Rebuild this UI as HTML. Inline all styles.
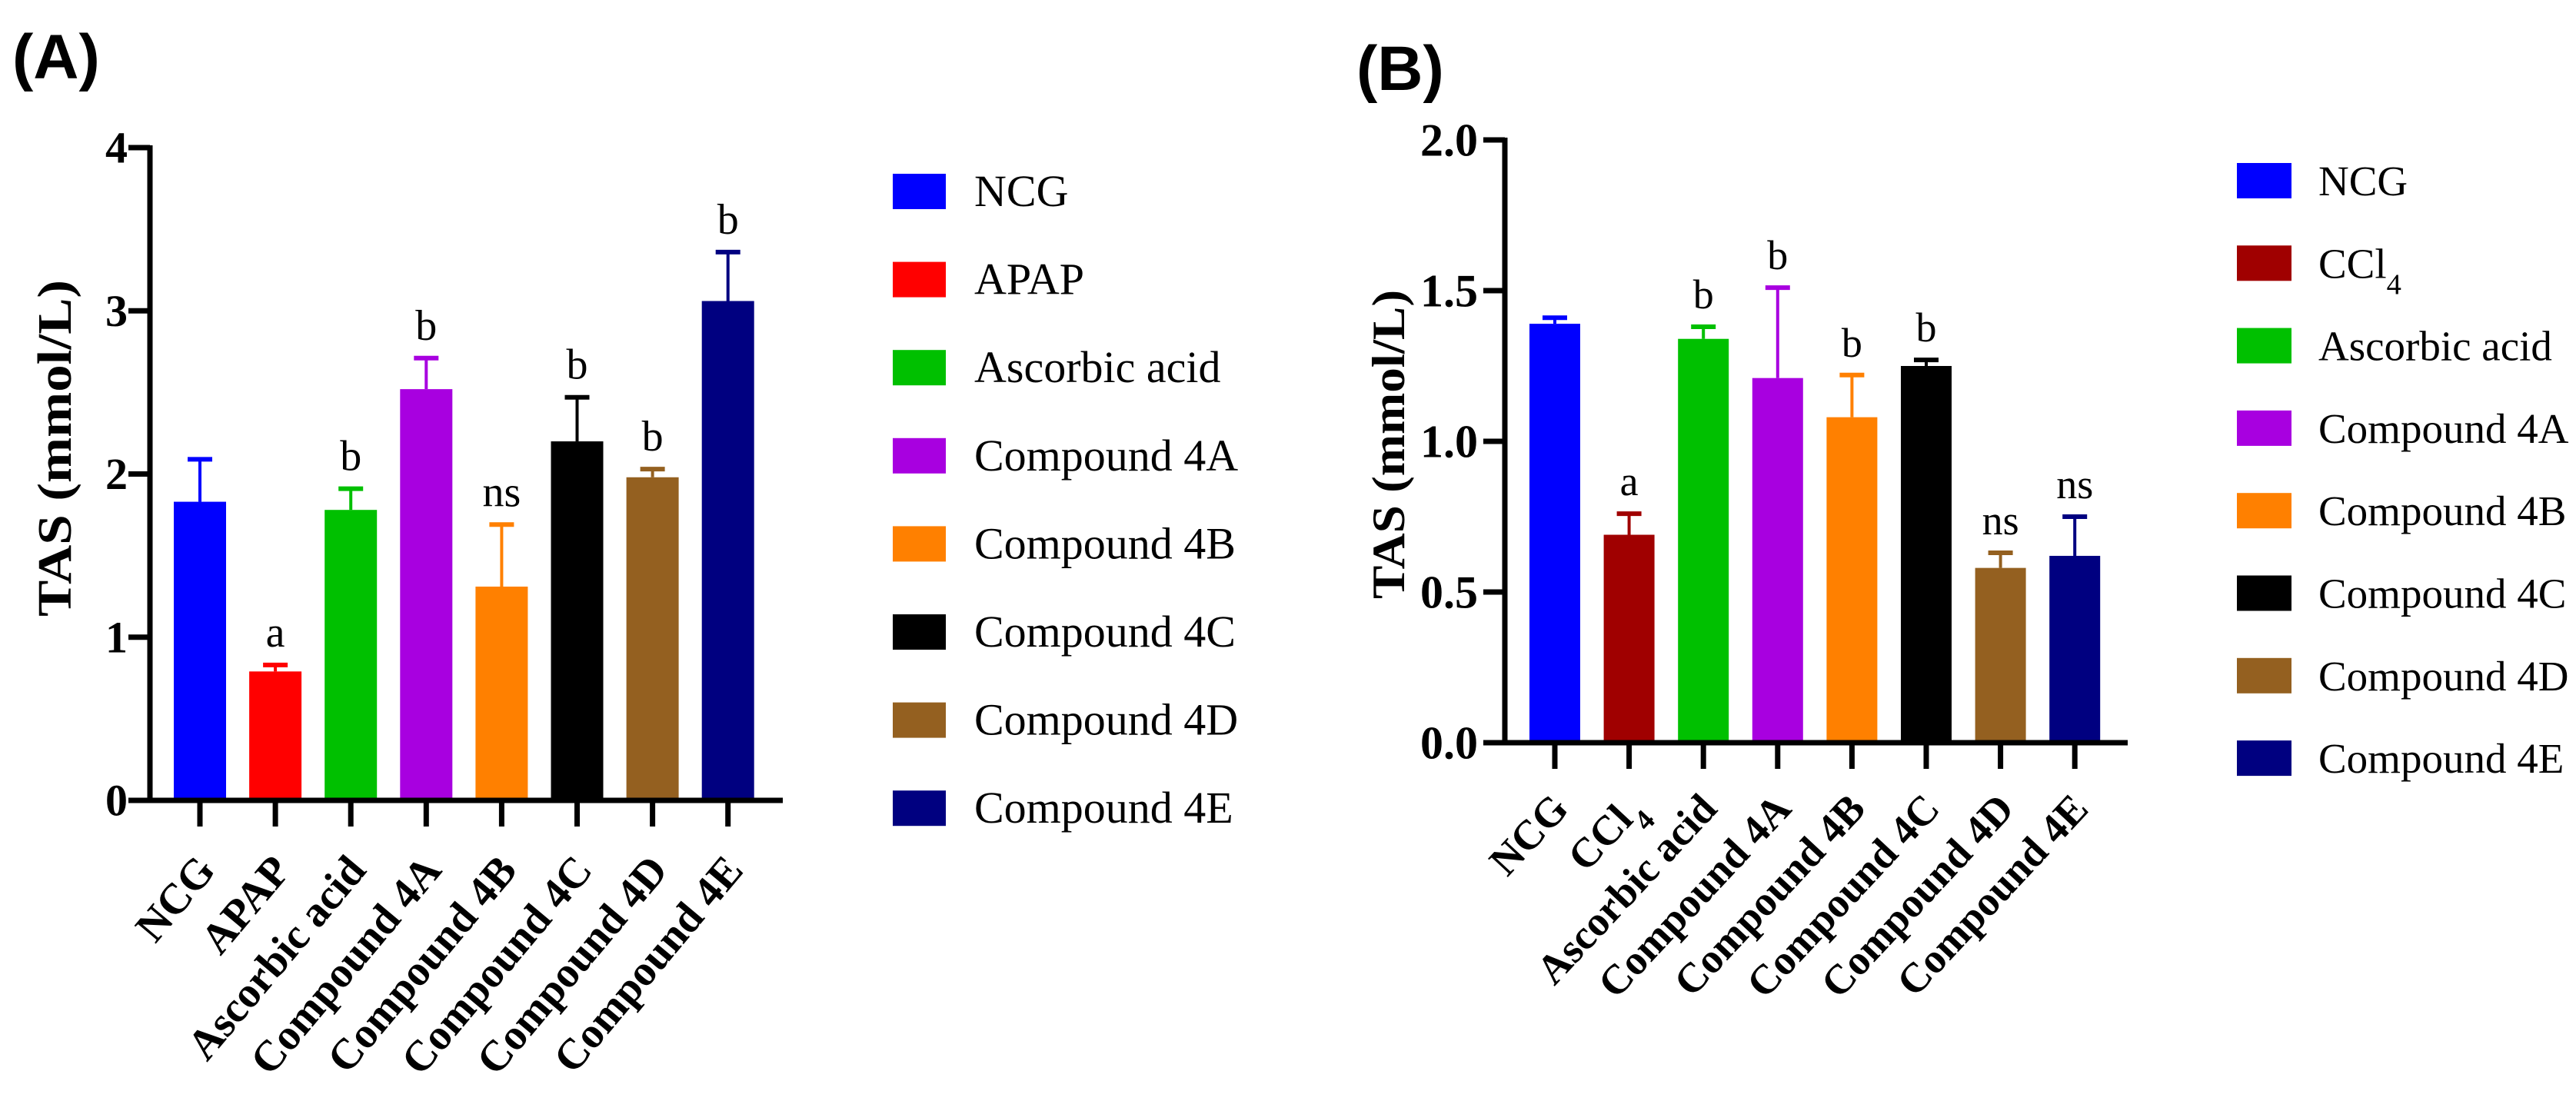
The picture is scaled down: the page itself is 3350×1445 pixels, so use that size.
<!DOCTYPE html>
<html><head><meta charset="utf-8"><style>
html,body{margin:0;padding:0;background:#fff;}
svg{display:block;}
text{font-family:"Liberation Serif",serif;}
</style></head><body>
<svg id="fig" width="3350" height="1445" viewBox="0 0 3350 1445" xmlns="http://www.w3.org/2000/svg">
<text x="16" y="102" font-weight="bold" font-size="82" style="font-family:'Liberation Sans',sans-serif">(A)</text>
<text x="1764" y="117" font-weight="bold" font-size="82" style="font-family:'Liberation Sans',sans-serif">(B)</text>
<g id="pa"></g>
<g id="pb"></g>
</svg>
<script>
const catsA = ["NCG","APAP","Ascorbic acid","Compound 4A","Compound 4B","Compound 4C","Compound 4D","Compound 4E"];
const valsA = [1.83,0.79,1.78,2.52,1.31,2.20,1.98,3.06];
const errA = [2.09,0.83,1.91,2.71,1.69,2.47,2.03,3.36];
const sigA = ["","a","b","b","ns","b","b","b"];
const ticksA = [0,1,2,3,4];
const tickLabelsA = ["0","1","2","3","4"];

const catsB = ["NCG","CCl4","Ascorbic acid","Compound 4A","Compound 4B","Compound 4C","Compound 4D","Compound 4E"];
const valsB = [1.39,0.69,1.34,1.21,1.08,1.25,0.58,0.62];
const errB = [1.41,0.76,1.38,1.51,1.22,1.27,0.63,0.75];
const sigB = ["","a","b","b","b","b","ns","ns"];
const ticksB = [0,0.5,1,1.5,2];
const tickLabelsB = ["0.0","0.5","1.0","1.5","2.0"];

const colorsA = ["#0000ff","#ff0000","#00c000","#a800e0","#ff8000","#000000","#946020","#000080"];
const colorsB = ["#0000ff","#a00000","#00c000","#a800e0","#ff8000","#000000","#946020","#000080"];

const NS = "http://www.w3.org/2000/svg";
function mk(parent, tag, attrs){
  const e = document.createElementNS(NS, tag);
  for (const k in attrs) e.setAttribute(k, attrs[k]);
  parent.appendChild(e);
  return e;
}
function labelText(el, s){
  if (s === "CCl4"){
    el.appendChild(document.createTextNode("CCl"));
    const t = document.createElementNS(NS,"tspan");
    t.setAttribute("baseline-shift","sub");
    t.setAttribute("font-size","0.7em");
    t.textContent = "4";
    el.appendChild(t);
  } else el.textContent = s;
}

function draw(g, cfg, cats, vals, errs, sigs, ticks, tickLabels, colors){
  const ymax = ticks[ticks.length-1];
  const y = v => cfg.y0 - (v/ymax)*(cfg.y0-cfg.yTop);
  const x = i => cfg.x0c + i*cfg.step;
  cats.forEach((c,i)=>{
    const r = mk(g,"rect",{x:x(i)-cfg.bw/2,y:y(vals[i]),width:cfg.bw,height:cfg.y0-y(vals[i]),fill:colors[i]});
    
    
    const l = mk(g,"line",{x1:x(i),x2:x(i),y1:y(vals[i]),y2:y(errs[i]),stroke:colors[i],"stroke-width":4});
    
    
    const cap = mk(g,"line",{x1:x(i)-16,x2:x(i)+16,y1:y(errs[i]),y2:y(errs[i]),stroke:colors[i],"stroke-width":6});
    
    
    if (sigs[i]){
      const t = mk(g,"text",{x:x(i),y:y(errs[i])-24,"text-anchor":"middle","font-size":cfg.sigSize});
      t.textContent = sigs[i];
      
      
    }
    const xt = mk(g,"line",{x1:x(i),x2:x(i),y1:cfg.y0,y2:cfg.y0+34,stroke:"#000","stroke-width":7});
    
    
    const tl = mk(g,"text",{x:0,y:0,"text-anchor":"end","font-weight":"bold","font-size":cfg.xlSize,
      transform:`translate(${x(i)+cfg.xlDx},${cfg.y0+cfg.xlDy}) rotate(${cfg.rot})`});
    labelText(tl,c);
    
    
  });
  const ya = mk(g,"line",{x1:cfg.ax,x2:cfg.ax,y1:cfg.yTop-3,y2:cfg.y0+3,stroke:"#000","stroke-width":7});
  
  
  const xa = mk(g,"line",{x1:cfg.ax-28,x2:cfg.axR,y1:cfg.y0,y2:cfg.y0,stroke:"#000","stroke-width":7});
  
  
  ticks.forEach((v,k)=>{
    const t = mk(g,"line",{x1:cfg.ax-28,x2:cfg.ax,y1:y(v),y2:y(v),stroke:"#000","stroke-width":7});
    
    
    const tx = mk(g,"text",{x:cfg.tlx,y:y(v)+cfg.tlSize*0.34,"text-anchor":"end","font-weight":"bold","font-size":cfg.tlSize});
    tx.textContent = tickLabels[k];
    
    
  });
  const tt = mk(g,"text",{x:0,y:0,"text-anchor":"middle","font-weight":"bold","font-size":cfg.titleSize,
    textLength:cfg.titleLen,lengthAdjust:"spacingAndGlyphs",
    transform:`translate(${cfg.titleX},${cfg.titleY}) rotate(-90)`});
  tt.textContent = "TAS (mmol/L)";
  
  
  cats.forEach((c,i)=>{
    const cy = cfg.legY + i*cfg.legStep;
    const s = mk(g,"rect",{x:cfg.legX,y:cy-23,width:cfg.legW,height:46,fill:colors[i]});
    
    
    const t = mk(g,"text",{x:cfg.legTx,y:cy+19,"font-size":cfg.legSize});
    labelText(t,c);
    
    
  });
}

draw(document.getElementById("pa"),{
  y0:1041,yTop:192,x0c:260,step:98.1,bw:68,ax:195,axR:1018,
  tlx:166,tlSize:58,titleX:92,titleY:583,titleSize:62,titleLen:438,
  sigSize:56,xlSize:56,xlDx:22,xlDy:92,rot:-50,
  legX:1161,legW:69,legY:249,legStep:114.6,legTx:1267,legSize:58
},catsA,valsA,errA,sigA,ticksA,tickLabelsA,colorsA);

draw(document.getElementById("pb"),{
  y0:966,yTop:182,x0c:2022,step:96.6,bw:66,ax:1957,axR:2767,
  tlx:1922,tlSize:60,titleX:1826,titleY:578,titleSize:60,titleLen:402,
  sigSize:54,xlSize:54,xlDx:20,xlDy:88,rot:-47,
  legX:2909,legW:71,legY:235,legStep:107.3,legTx:3015,legSize:55
},catsB,valsB,errB,sigB,ticksB,tickLabelsB,colorsB);
</script>
</body></html>
